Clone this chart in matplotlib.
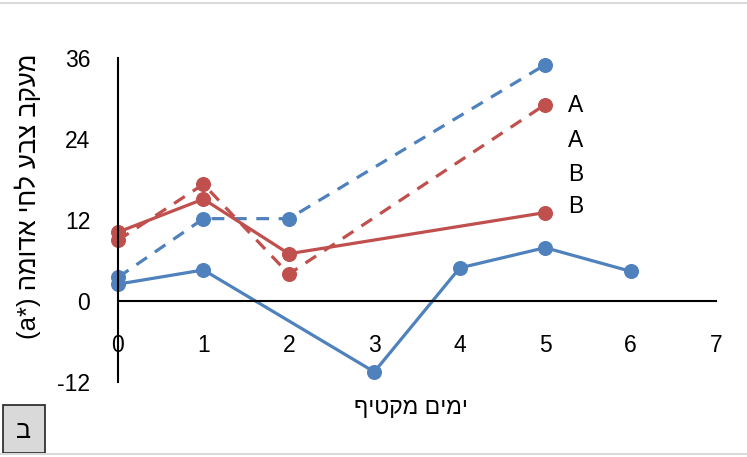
import matplotlib

matplotlib.use("Agg")
import matplotlib.pyplot as plt
from matplotlib.lines import Line2D
from matplotlib.patches import Rectangle

plt.rcParams["font.family"] = ["Liberation Sans", "DejaVu Sans"]
plt.rcParams["axes.unicode_minus"] = False

# --- datos ---
dias_azul = [0, 1, 3, 4, 5, 6]
azul_cont = [2.5, 4.6, -10.5, 4.9, 7.9, 4.4]

dias_azul_trz = [0, 1, 2, 5]
azul_trz = [3.5, 12.2, 12.2, 35.0]

dias_rojo = [0, 1, 2, 5]
rojo_cont = [10.2, 15.1, 7.0, 13.1]
rojo_trz = [9.0, 17.3, 4.0, 29.1]

letras = ["A", "A", "B", "B"]
letras_y = [28.9, 23.8, 18.7, 14.0]

y_ticks = [-12, 0, 12, 24, 36]
x_ticks = [0, 1, 2, 3, 4, 5, 6, 7]

AZUL = "#4F81BD"
ROJO = "#C0504D"

# texto hebreo en orden visual (matplotlib no aplica bidi)
ylabel_txt = "(a*) " + "מעקב צבע לחי אדומה"[::-1]
xlabel_txt = "ימים מקטיף"[::-1]

fig = plt.figure(figsize=(7.47, 4.57), dpi=100)
ax = fig.add_axes([118 / 747, 1 - 382 / 457, (716 - 118) / 747, (382 - 58) / 457])

lw = 2.3
ms = 9.8
ax.plot(dias_azul, azul_cont, color=AZUL, lw=lw, marker="o", ms=ms, clip_on=False)
ax.plot(dias_azul_trz, azul_trz, color=AZUL, lw=lw, ls=(0, (4, 3)), marker="o", ms=ms, clip_on=False)
ax.plot(dias_rojo, rojo_cont, color=ROJO, lw=lw, marker="o", ms=ms, clip_on=False)
ax.plot(dias_rojo, rojo_trz, color=ROJO, lw=lw, ls=(0, (4, 3)), marker="o", ms=ms, clip_on=False)

for letra, y in zip(letras, letras_y):
    ax.text(5.36, y, letra, ha="center", va="center", fontsize=16.5)

ax.set_xlim(0, 7)
ax.set_ylim(-12, 36)
ax.set_xticks(x_ticks)
ax.set_yticks(y_ticks)
ax.spines["top"].set_visible(False)
ax.spines["right"].set_visible(False)
ax.spines["bottom"].set_position(("data", 0))
ax.spines["left"].set_linewidth(1.5)
ax.spines["bottom"].set_linewidth(1.5)
ax.tick_params(axis="x", length=0, pad=24, labelsize=16.5)
ax.tick_params(axis="y", length=0, pad=20, labelsize=16.5)

fig.text(411 / 747, 1 - 408 / 457, xlabel_txt, ha="center", va="center", fontsize=16.5)
fig.text(28 / 747, 1 - 196 / 457, ylabel_txt, ha="center", va="center", rotation=90, fontsize=18.5)

# recuadro con la letra del panel
fig.add_artist(Rectangle((3 / 747, 1 - 453 / 457), 42 / 747, 48 / 457,
                         transform=fig.transFigure, facecolor="#D9D9D9",
                         edgecolor="#222222", lw=1.2))
fig.text(24 / 747, 1 - 431 / 457, "ב", ha="center", va="center", fontsize=18)

# líneas grises de borde
for yy in (1 - 3 / 457, 1 - 454 / 457):
    fig.add_artist(Line2D([0, 1], [yy, yy], transform=fig.transFigure, color="#DADADA", lw=1.5))

fig.savefig("out.png", dpi=100)
